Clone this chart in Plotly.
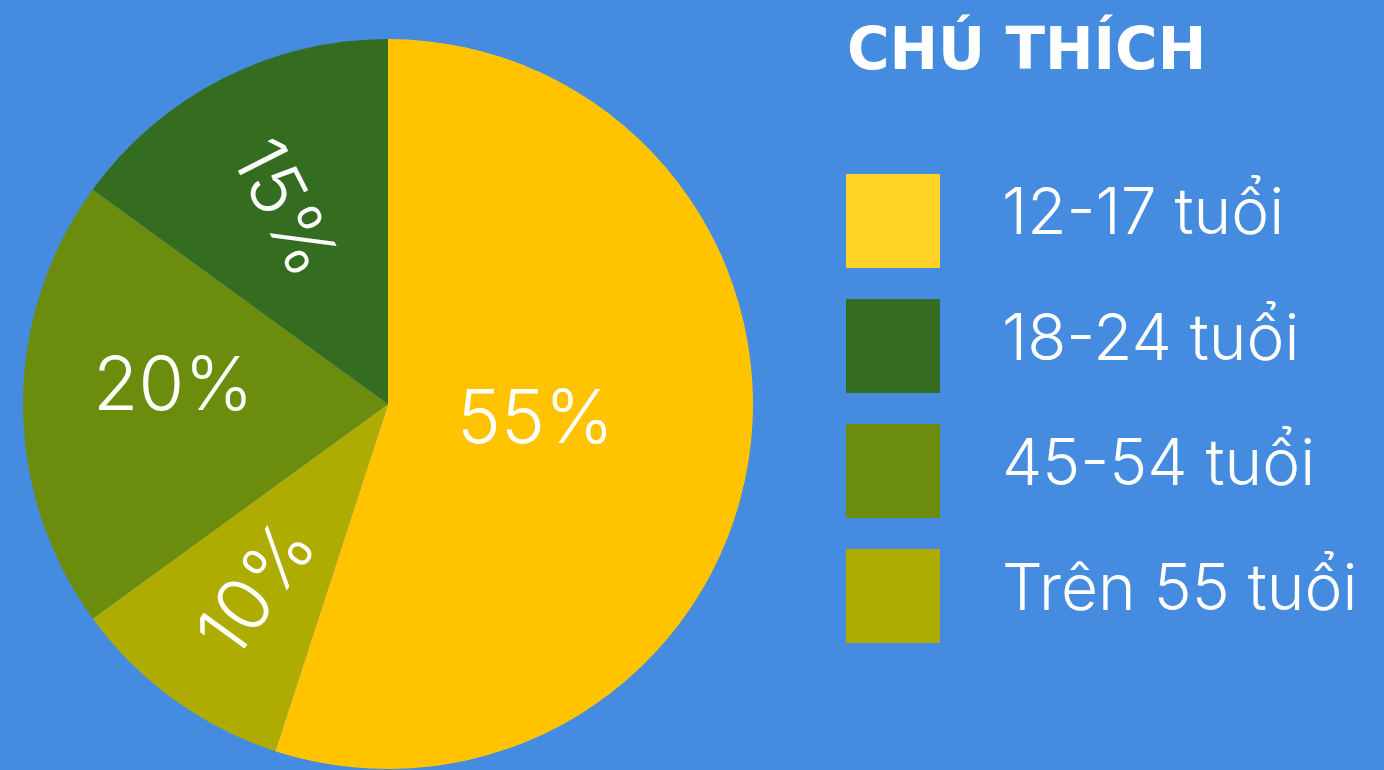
import math
import plotly.graph_objects as go

# Data (clockwise from top)
labels = ["12-17 tuổi", "Trên 55 tuổi", "45-54 tuổi", "18-24 tuổi"]
values = [55, 10, 20, 15]
pie_colors = ["#FFC300", "#AEAC00", "#6B8C0D", "#346C20"]
radial_labels = [False, True, False, True]
label_radius = [0.41, 0.62, 0.59, 0.61]
label_yshift = [12, 0, 22, 0]

legend_labels = ["12-17 tuổi", "18-24 tuổi", "45-54 tuổi", "Trên 55 tuổi"]
legend_colors = ["#FFD324", "#346C20", "#6B8C0D", "#AEAC00"]
legend_title = "CHÚ THÍCH"

W, H = 1384, 770
BG = "#458BE0"
FONT = "Inter"

def px(x):
    return x / W

def py(y):
    return 1 - y / H

CX, CY, R = 388, 405, 365
dom = dict(x=[px(CX - R), px(CX + R)], y=[py(CY + R - 1), py(CY - R - 1)])

fig = go.Figure()
fig.add_trace(go.Pie(
    labels=labels, values=values, sort=False, direction="clockwise", rotation=0,
    marker=dict(colors=pie_colors, line=dict(width=0)),
    domain=dom, textinfo="none", showlegend=False, hoverinfo="label+percent",
))

annotations = []
total = sum(values)
cum = 0
for v, rad, rf, ys in zip(values, radial_labels, label_radius, label_yshift):
    mid = (cum + v / 2) / total * 360.0
    cum += v
    th = math.radians(mid)
    x = CX + rf * R * math.sin(th)
    y = CY - rf * R * math.cos(th)
    ang = (mid - 270) if rad else 0
    annotations.append(dict(
        text=f"{round(v / total * 100)}%", x=px(x), y=py(y), xref="paper", yref="paper",
        xanchor="center", yanchor="middle", showarrow=False, textangle=ang, yshift=ys,
        font=dict(family=FONT, size=74, color="white", weight=300),
    ))

shapes = []
annotations.append(dict(
    text=legend_title, x=px(845), y=py(48), xref="paper", yref="paper",
    xanchor="left", yanchor="middle", showarrow=False,
    font=dict(family="DejaVu Sans", size=58, color="white", weight=700),
))
box_top0, step, box = 174, 125, 94
for i, (lab, col) in enumerate(zip(legend_labels, legend_colors)):
    t = box_top0 + i * step
    shapes.append(dict(type="rect", xref="paper", yref="paper",
                       x0=px(846), x1=px(940), y0=py(t + box), y1=py(t),
                       fillcolor=col, line=dict(width=0), layer="above"))
    annotations.append(dict(
        text=lab, x=px(1000), y=py(t + box / 2), xref="paper", yref="paper",
        xanchor="left", yanchor="middle", showarrow=False, yshift=10,
        font=dict(family=FONT, size=64, color="white", weight=300),
    ))

fig.update_layout(
    width=W, height=H, margin=dict(l=0, r=0, t=0, b=0),
    paper_bgcolor=BG, plot_bgcolor=BG,
    shapes=shapes, annotations=annotations,
)

fig.write_html(
    "out.html",
    config={"displayModeBar": False},
    post_script="document.body.style.margin='0';document.body.style.overflow='hidden';",
)
